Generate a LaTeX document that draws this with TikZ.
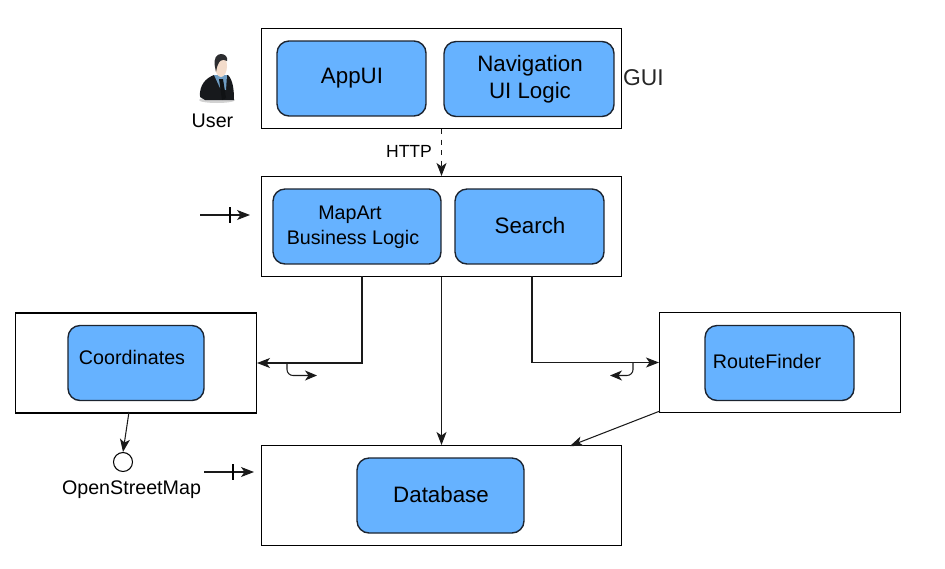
\documentclass[tikz,border=0pt]{standalone}
\usepackage{fontspec}
\setmainfont{Liberation Sans}
\usetikzlibrary{arrows.meta}
\definecolor{compblue}{HTML}{66B2FF}
\definecolor{compline}{HTML}{1C2430}
\definecolor{suit}{HTML}{17191C}
\definecolor{shirt}{HTML}{6E9DC4}
\definecolor{skin}{HTML}{F3DCCB}
\definecolor{wire}{HTML}{1A1A1A}
\tikzset{
    layer/.style={draw=black,line width=0.6pt,inner sep=0pt,minimum width=7.2cm,minimum height=2cm},
    sidelayer/.style={layer,minimum width=4.82cm},
    comp/.style={draw=compline,line width=0.8pt,fill=compblue,rounded corners=0.24cm,inner sep=0pt,minimum height=1.5cm},
    bigtext/.style={font=\fontsize{12.7}{15}\selectfont},
    smalltext/.style={font=\fontsize{11.2}{14}\selectfont},
    link/.style={-{Stealth[length=0.26cm,width=0.2cm,inset=0.07cm]},draw=wire,line width=0.6pt},
    hook/.style={-{Stealth[length=0.24cm,width=0.2cm,inset=0.07cm]},draw=wire,line width=0.6pt,rounded corners=0.12cm}
}
\begin{document}
\begin{tikzpicture}[x=0.02cm,y=-0.02cm]
    \useasboundingbox (0,0) rectangle (945,568);
    %layers
    \node [layer] (gui) at (441.5,78.5) {};
    \node [layer] (logic) at (441.5,226.5) {};
    \node [sidelayer] (coords) at (136,363) {};
    \node [sidelayer] (route) at (780,362.5) {};
    \node [layer] (db) at (441.5,495.5) {};
    %components
    \node [comp,minimum width=2.98cm] (appui) at (351.5,78.5) {};
    \node [comp,minimum width=3.4cm] (navui) at (529,79) {};
    \node [comp,minimum width=3.36cm] (mapart) at (357,226.5) {};
    \node [comp,minimum width=2.98cm] (search) at (529.5,226.5) {};
    \node [comp,minimum width=2.72cm] (coordcomp) at (136,363) {};
    \node [comp,minimum width=2.98cm] (routecomp) at (779.5,363) {};
    \node [comp,minimum width=3.34cm] (dbcomp) at (440.5,495.5) {};
    %labels
    \node [bigtext] (apptext) at (352,78.5) {AppUI};
    \node [bigtext] (navtext) at (530,65.5) {Navigation};
    \node [bigtext] (uitext) at (530,92.5) {UI Logic};
    \node [smalltext] (maptext) at (350,214.5) {MapArt};
    \node [smalltext] (bustext) at (353,239) {Business Logic};
    \node [bigtext] (searchtext) at (530,225.5) {Search};
    \node [smalltext] (coordtext) at (132,357) {Coordinates};
    \node [smalltext] (routetext) at (767,361) {RouteFinder};
    \node [bigtext] (dbtext) at (441,494.5) {Database};
    \node [font=\fontsize{13}{15}\selectfont,text=black!85] (guitext) at (643.5,78) {GUI};
    \node [smalltext] (usertext) at (212.5,121) {User};
    \node [font=\fontsize{10}{12}\selectfont] (httptext) at (409,151) {HTTP};
    \node [draw=black,line width=0.6pt,circle,inner sep=0pt,minimum size=0.38cm] (osm) at (123,462) {};
    \node [smalltext] (osmtext) at (131.5,489.5) {OpenStreetMap};
    %user icon
    \fill [gray!35] (217,100) ellipse (18 and 3);
    \fill [suit] (200,97) .. controls (199,85) and (206,78) .. (214,75) -- (228,75) .. controls (233,80) and (234,90) .. (234,100) -- (205,100) -- cycle;
    \fill [shirt] (214,75) -- (227,75) -- (226,90) -- (220,88) -- cycle;
    \fill [suit!70!black] (219,79) -- (223,79) -- (226,98) -- (222,100) -- cycle;
    \fill [skin] (221,66) ellipse (6 and 11);
    \fill [suit!80!gray] (215,67) .. controls (213,58) and (217,54) .. (221,54) .. controls (225,54) and (228,57) .. (227,61) .. controls (222,58) and (218,60) .. (216,72) -- cycle;
    %connectors
    \coordinate (mapdrop) at (362,276);
    \coordinate (searchdrop) at (532,276);
    \coordinate (coordout) at (129,412);
    \coordinate (routeout) at (660,411);
    \coordinate (dbin) at (570,446);
    \draw [link,dashed] (gui.south) -- (logic.north);
    \draw [link] (logic.south) -- (db.north);
    \draw [link] (mapdrop) |- (coords.east);
    \draw [link] (searchdrop) |- (route.west);
    \draw [link] (routeout) -- (dbin);
    \draw [link] (coordout) -- (osm.north);
    %small hooks
    \coordinate (hookl) at (287,363);
    \coordinate (hookr) at (633,363);
    \draw [hook] (hookl) |- (317,375.5);
    \draw [hook] (hookr) |- (610,375.5);
    %tick arrows
    \coordinate (logicin) at (200,215);
    \coordinate (logicend) at (250,215);
    \coordinate (dbfrom) at (204,472);
    \coordinate (dbend) at (254,472);
    \draw [link] (logicin) -- (logicend);
    \draw [link] (dbfrom) -- (dbend);
    \draw [line width=0.6pt] (230,207) -- (230,223);
    \draw [line width=0.6pt] (233,464) -- (233,480);
\end{tikzpicture}
\end{document}
